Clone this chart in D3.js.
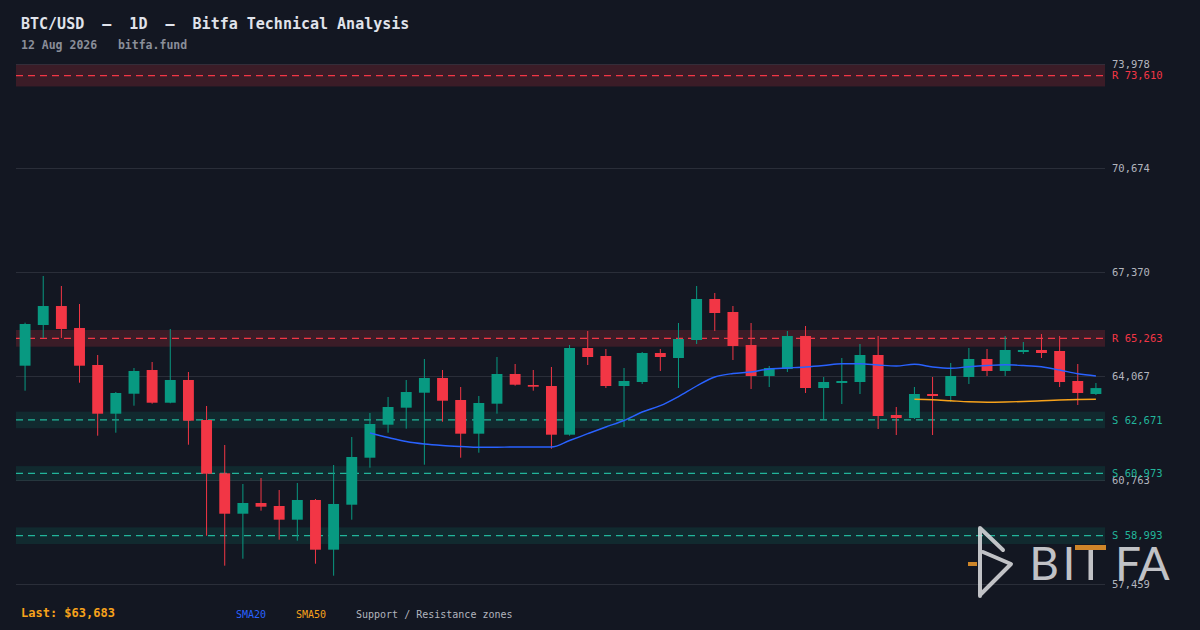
<!DOCTYPE html>
<html>
<head>
<meta charset="utf-8">
<script src="https://cdn.jsdelivr.net/npm/d3@7"></script>
<style>
  html, body { margin: 0; padding: 0; background: #131722; }
  svg { display: block; }
  text { font-family: "DejaVu Sans Mono", "Liberation Mono", monospace; }
</style>
</head>
<body>
<svg id="chart" width="1200" height="630"></svg>
<script>
// daily candles, 14 Jun .. 12 Aug 2026
var dates = d3.utcDay.range(new Date(Date.UTC(2026, 5, 14)), new Date(Date.UTC(2026, 7, 13)));

var opens = [64394, 65687, 66290, 65592, 64416, 62869, 63504, 64257, 63218, 63940,
             62669, 60976, 59692, 60032, 59937, 59502, 60128, 58549, 59978, 61471,
             62520, 63060, 63536, 64003, 63304, 62234, 63187, 64130, 63781, 63749,
             62202, 64956, 64702, 63749, 63876, 64797, 64638, 65210, 66513, 66100,
             65051, 64067, 64289, 65337, 63685, 63844, 63876, 64734, 62828, 62732,
             63495, 63431, 64035, 64607, 64226, 64829, 64893, 64861, 63908, 63495];
var highs = [65760, 67243, 66926, 66354, 64734, 63558, 64321, 64511, 65560, 64194,
             63114, 61875, 60636, 60826, 60445, 60668, 60159, 61239, 62129, 62891,
             63400, 63940, 64607, 64257, 63717, 63431, 64670, 64448, 64257, 64353,
             65051, 65496, 64924, 64321, 64829, 64924, 65750, 66926, 66703, 66290,
             65750, 64384, 65496, 65655, 64035, 64638, 65083, 65337, 63082, 63717,
             64035, 64480, 64956, 64924, 65337, 65147, 65401, 65337, 64448, 63844];
var lows  = [63600, 65274, 65274, 63854, 62170, 62265, 63123, 63187, 63200, 61884,
             58993, 58041, 58263, 59788, 58866, 58835, 58104, 57723, 59502, 61154,
             62265, 62393, 61249, 62615, 61471, 61630, 62869, 63759, 63600, 61757,
             62170, 64416, 63685, 62447, 63813, 64226, 63685, 65083, 65496, 64575,
             63654, 63717, 64194, 63527, 62669, 63177, 63495, 62383, 62192, 62701,
             62192, 63241, 63813, 64067, 64067, 64766, 64638, 63717, 63145, 63463];
var closes = [65719, 66290, 65560, 64394, 62869, 63527, 64226, 63218, 63940, 62647,
              60963, 59692, 60032, 59915, 59502, 60128, 58549, 60001, 61494, 62542,
              63082, 63558, 64003, 63282, 62234, 63209, 64130, 63790, 63727, 62202,
              64956, 64670, 63749, 63908, 64797, 64670, 65242, 66513, 66068, 65020,
              64067, 64321, 65337, 63685, 63876, 63908, 64734, 62796, 62732, 63495,
              63431, 64067, 64607, 64226, 64893, 64893, 64797, 63876, 63527, 63683];

// moving averages as drawn (start index, values)
var sma20Start = 19;
var sma20 = [62256, 62113, 61986, 61907, 61859, 61827, 61802, 61805, 61811, 61811,
             61811, 62018, 62234, 62447, 62653, 62923, 63123, 63415, 63749, 64035,
             64146, 64194, 64289, 64321, 64353, 64400, 64457, 64457, 64416, 64384,
             64438, 64353, 64311, 64362, 64400, 64422, 64400, 64359, 64257, 64137, 64067];
var sma50Start = 49;
var sma50 = [63326, 63311, 63279, 63247, 63234, 63241, 63256, 63279, 63304, 63320, 63326];

// support / resistance zones
var levelKind = ["R", "R", "S", "S", "S"];
var levelPrice = [73610, 65263, 62671, 60973, 58993];
var levelLow  = [73265, 64998, 62409, 60743, 58728];
var levelHigh = [73955, 65528, 62933, 61203, 59258];

var yTicks = [73978, 70674, 67370, 64067, 60763, 57459];
var yDomain = [57459, 73978];
var lastPrice = 63683;

var svg = d3.select("#chart"),
  plotL = 16, plotR = 1105, plotT = 64, plotB = 584;

var green = "#089981", red = "#f23645", teal = "#22b59a";

var x = d3.scaleBand()
  .domain(dates)
  .range([plotL, plotR])
  .paddingInner(0.4)
  .paddingOuter(0.2);

var y = d3.scaleLinear()
  .domain(yDomain)
  .range([plotB, plotT]);

var cx = function (i) { return x(dates[i]) + x.bandwidth() / 2; };
var fmt = d3.format(",");

// grid
svg.append("g")
  .selectAll("line")
  .data(yTicks)
  .enter()
  .append("line")
  .attr("x1", plotL)
  .attr("x2", plotR)
  .attr("y1", function (d) { return Math.round(y(d)) + 0.5; })
  .attr("y2", function (d) { return Math.round(y(d)) + 0.5; })
  .attr("stroke", "#2a2e39")
  .attr("stroke-width", 1);

// zones
var zones = svg.append("g");
zones.selectAll("rect")
  .data(levelPrice)
  .enter()
  .append("rect")
  .attr("x", plotL)
  .attr("width", plotR - plotL)
  .attr("y", function (d, i) { return y(levelHigh[i]); })
  .attr("height", function (d, i) { return y(levelLow[i]) - y(levelHigh[i]); })
  .attr("fill", function (d, i) { return levelKind[i] == "R" ? "rgba(242,54,69,0.18)" : "rgba(8,153,129,0.15)"; });

zones.selectAll("line")
  .data(levelPrice)
  .enter()
  .append("line")
  .attr("x1", plotL)
  .attr("x2", plotR)
  .attr("y1", function (d) { return y(d); })
  .attr("y2", function (d) { return y(d); })
  .attr("stroke", function (d, i) { return levelKind[i] == "R" ? red : teal; })
  .attr("stroke-width", 1.2)
  .attr("stroke-dasharray", "7,5");

// y axis labels
var axis = svg.append("g")
  .attr("transform", "translate(" + plotR + ",0)")
  .call(d3.axisRight(y).tickValues(yTicks).tickSize(0).tickPadding(7).tickFormat(fmt));
axis.select(".domain").remove();
axis.selectAll("text")
  .attr("fill", "#b2b5be")
  .attr("font-size", 10.5)
  .attr("font-family", "DejaVu Sans Mono, monospace");

svg.append("g")
  .selectAll("text")
  .data(levelPrice)
  .enter()
  .append("text")
  .attr("x", plotR + 7)
  .attr("y", function (d) { return y(d); })
  .attr("dy", "0.35em")
  .attr("font-size", 10.5)
  .attr("fill", function (d, i) { return levelKind[i] == "R" ? red : teal; })
  .text(function (d, i) { return levelKind[i] + " " + fmt(d); });

// candles
var candles = svg.append("g")
  .selectAll("g")
  .data(dates)
  .enter()
  .append("g")
  .attr("fill", function (d, i) { return closes[i] >= opens[i] ? green : red; })
  .attr("stroke", function (d, i) { return closes[i] >= opens[i] ? green : red; });

candles.append("line")
  .attr("x1", function (d, i) { return cx(i); })
  .attr("x2", function (d, i) { return cx(i); })
  .attr("y1", function (d, i) { return y(highs[i]); })
  .attr("y2", function (d, i) { return y(lows[i]); })
  .attr("stroke-width", 1);

candles.append("rect")
  .attr("stroke", "none")
  .attr("x", function (d) { return x(d); })
  .attr("width", x.bandwidth())
  .attr("y", function (d, i) { return y(Math.max(opens[i], closes[i])); })
  .attr("height", function (d, i) { return Math.max(1.5, Math.abs(y(opens[i]) - y(closes[i]))); });

// moving averages
var smaLine = function (start) {
  return d3.line()
    .x(function (d, i) { return cx(start + i); })
    .y(function (d) { return y(d); })
    .curve(d3.curveMonotoneX);
};

svg.append("path")
  .attr("d", smaLine(sma20Start)(sma20))
  .attr("fill", "none")
  .attr("stroke", "#2962ff")
  .attr("stroke-width", 1.4);

svg.append("path")
  .attr("d", smaLine(sma50Start)(sma50))
  .attr("fill", "none")
  .attr("stroke", "#f7a21b")
  .attr("stroke-width", 1.4);

// titles
svg.append("text")
  .attr("x", 21)
  .attr("y", 29)
  .attr("font-size", 15)
  .attr("font-weight", "bold")
  .attr("fill", "#e0e3eb")
  .style("white-space", "pre")
  .text("BTC/USD  \u2014  1D  \u2014  Bitfa Technical Analysis");

svg.append("text")
  .attr("x", 21)
  .attr("y", 49)
  .attr("font-size", 11.5)
  .attr("font-weight", "bold")
  .attr("fill", "#8a8e99")
  .style("white-space", "pre")
  .text("12 Aug 2026   bitfa.fund");

// footer
svg.append("text")
  .attr("x", 21)
  .attr("y", 617)
  .attr("font-size", 12)
  .attr("font-weight", "bold")
  .attr("fill", "#f7a21b")
  .text("Last: $" + fmt(lastPrice));

var legendKeys = ["SMA20", "SMA50", "Support / Resistance zones"];
var legendColors = ["#2962ff", "#f7a21b", "#b2b5be"];
var legendX = [236, 296, 356];
svg.append("g")
  .selectAll("text")
  .data(legendKeys)
  .enter()
  .append("text")
  .attr("x", function (d, i) { return legendX[i]; })
  .attr("y", 618)
  .attr("font-size", 10)
  .attr("fill", function (d, i) { return legendColors[i]; })
  .text(function (d) { return d; });

// watermark logo
var logo = svg.append("g").attr("opacity", 0.88);
logo.append("path")
  .attr("d", "M980,596 L980,528 L1003,550 M983,552 L1011,564 L981,594")
  .attr("fill", "none")
  .attr("stroke", "#d9dadd")
  .attr("stroke-width", 4)
  .attr("stroke-linecap", "round")
  .attr("stroke-linejoin", "round");
logo.append("rect")
  .attr("x", 968).attr("y", 562).attr("width", 9).attr("height", 4)
  .attr("fill", "#e8962a");

var letters = ["B", "I", "F", "A"];
var letterX = [1044, 1069, 1128, 1154];
logo.selectAll("text.l")
  .data(letters)
  .enter()
  .append("text")
  .attr("class", "l")
  .attr("x", function (d, i) { return letterX[i]; })
  .attr("y", 580)
  .attr("text-anchor", "middle")
  .attr("font-size", 46)
  .attr("fill", "#d9dadd")
  .style("font-family", "Lato, 'Noto Sans', sans-serif")
  .text(function (d) { return d; });
logo.append("rect")
  .attr("x", 1088.5).attr("y", 549).attr("width", 4.5).attr("height", 31)
  .attr("fill", "#d9dadd");
logo.append("rect")
  .attr("x", 1075).attr("y", 545).attr("width", 31).attr("height", 5)
  .attr("fill", "#e8962a");
</script>
</body>
</html>
